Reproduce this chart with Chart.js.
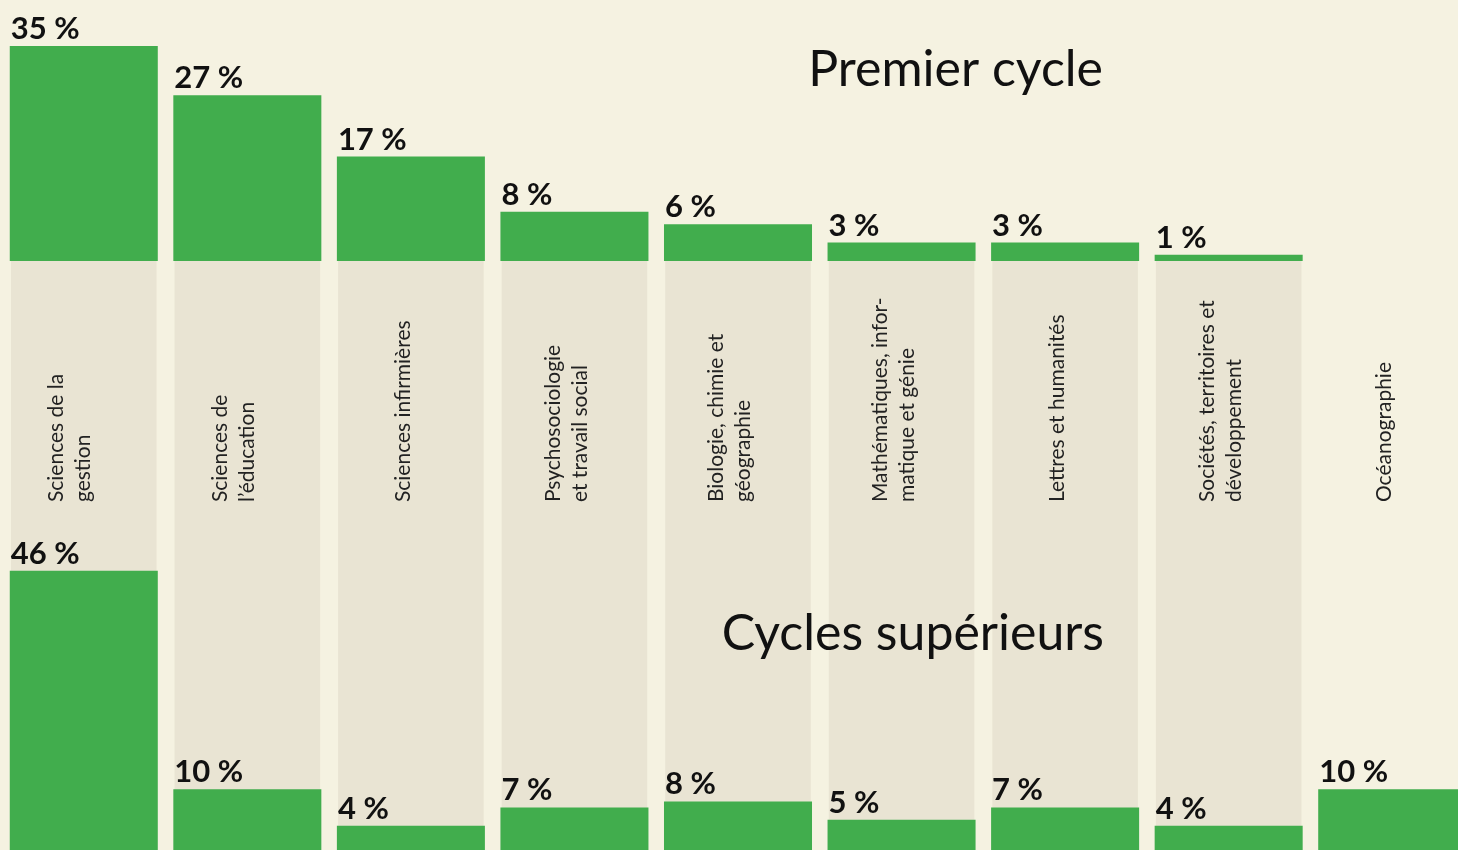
<!DOCTYPE html>
<html lang="fr">
<head>
<meta charset="utf-8">
<script src="https://cdn.jsdelivr.net/npm/chart.js@4"></script>
<style>
  html, body { margin: 0; padding: 0; background: #f5f2e1; overflow: hidden; }
  #wrap { width: 1476px; height: 850px; }
</style>
</head>
<body>
<div id="wrap"><canvas id="chart"></canvas></div>
<script>
// disciplines (line breaks as in the original)
const disciplines = [
  ['Sciences de la', 'gestion'],
  ['Sciences de', 'l’éducation'],
  ['Sciences infirmières'],
  ['Psychosociologie', 'et travail social'],
  ['Biologie, chimie et', 'géographie'],
  ['Mathématiques, infor-', 'matique et génie'],
  ['Lettres et humanités'],
  ['Sociétés, territoires et', 'développement'],
  ['Océanographie']
];
const premierCycle = [35, 27, 17, 8, 6, 3, 3, 1, null];
const cyclesSup = [46, 10, 4, 7, 8, 5, 7, 4, 10];
const hasBand = [true, true, true, true, true, true, true, true, false];

const GREEN = '#41ad4d';
const BAND = '#e9e4d3';
const BOTTOM_MAX = 97;

const labelsPlugin = {
  id: 'labels',
  afterDatasetsDraw(chart) {
    const ctx = chart.ctx;
    const yb = chart.scales.yBottom;
    ctx.save();

    // category names, rotated, in the band area
    const bandMeta = chart.getDatasetMeta(2);
    const anchorY = yb.getPixelForValue(57.3);
    ctx.fillStyle = '#222';
    ctx.font = '400 21px Lato';
    ctx.textAlign = 'left';
    ctx.textBaseline = 'middle';
    disciplines.forEach((lines, i) => {
      const cx = bandMeta.data[i].x - (i < 2 ? 14 : 8);
      const lh = 27;
      lines.forEach((line, j) => {
        const x = cx + (j - (lines.length - 1) / 2) * lh;
        ctx.save();
        ctx.translate(x, anchorY);
        ctx.rotate(-Math.PI / 2);
        ctx.fillText(line, 0, 0);
        ctx.restore();
      });
    });

    // value labels
    ctx.fillStyle = '#111';
    ctx.font = '700 31px Lato';
    ctx.textBaseline = 'alphabetic';
    [0, 1].forEach(di => {
      const meta = chart.getDatasetMeta(di);
      const values = chart.data.datasets[di].data;
      meta.data.forEach((el, i) => {
        if (values[i] == null) return;
        ctx.fillText(values[i] + ' %', el.x - el.width / 2 + 1, el.y - 7);
      });
    });

    // section titles
    ctx.fillStyle = '#111';
    ctx.font = '400 50px Lato';
    ctx.textAlign = 'right';
    ctx.fillText('Premier cycle', 1103, 86);
    ctx.fillText('Cycles supérieurs', 1104, 650);
    ctx.restore();
  }
};

new Chart(document.getElementById('chart'), {
  type: 'bar',
  data: {
    labels: disciplines.map(l => l.join(' ')),
    datasets: [
      {
        label: 'Premier cycle',
        data: premierCycle,
        yAxisID: 'yTop',
        backgroundColor: GREEN,
        grouped: false,
        order: 0
      },
      {
        label: 'Cycles supérieurs',
        data: cyclesSup,
        yAxisID: 'yBottom',
        backgroundColor: GREEN,
        grouped: false,
        order: 0
      },
      {
        label: 'band',
        data: hasBand.map(b => (b ? BOTTOM_MAX : null)),
        yAxisID: 'yBottom',
        backgroundColor: BAND,
        grouped: false,
        order: 5,
        barPercentage: 0.89
      }
    ]
  },
  options: {
    responsive: true,
    maintainAspectRatio: false,
    animation: false,
    layout: { padding: { left: 2, right: 2, top: 0, bottom: 0 } },
    datasets: {
      bar: { categoryPercentage: 1, barPercentage: 0.905, borderWidth: 0 }
    },
    plugins: { legend: { display: false }, tooltip: { enabled: false } },
    scales: {
      x: { display: false },
      yBottom: {
        display: false,
        position: 'left',
        stack: 'v',
        stackWeight: 589,
        min: 0,
        max: BOTTOM_MAX
      },
      yTop: {
        display: false,
        position: 'left',
        stack: 'v',
        stackWeight: 261,
        min: 0,
        max: 42.5
      }
    }
  },
  plugins: [labelsPlugin]
});
</script>
</body>
</html>
